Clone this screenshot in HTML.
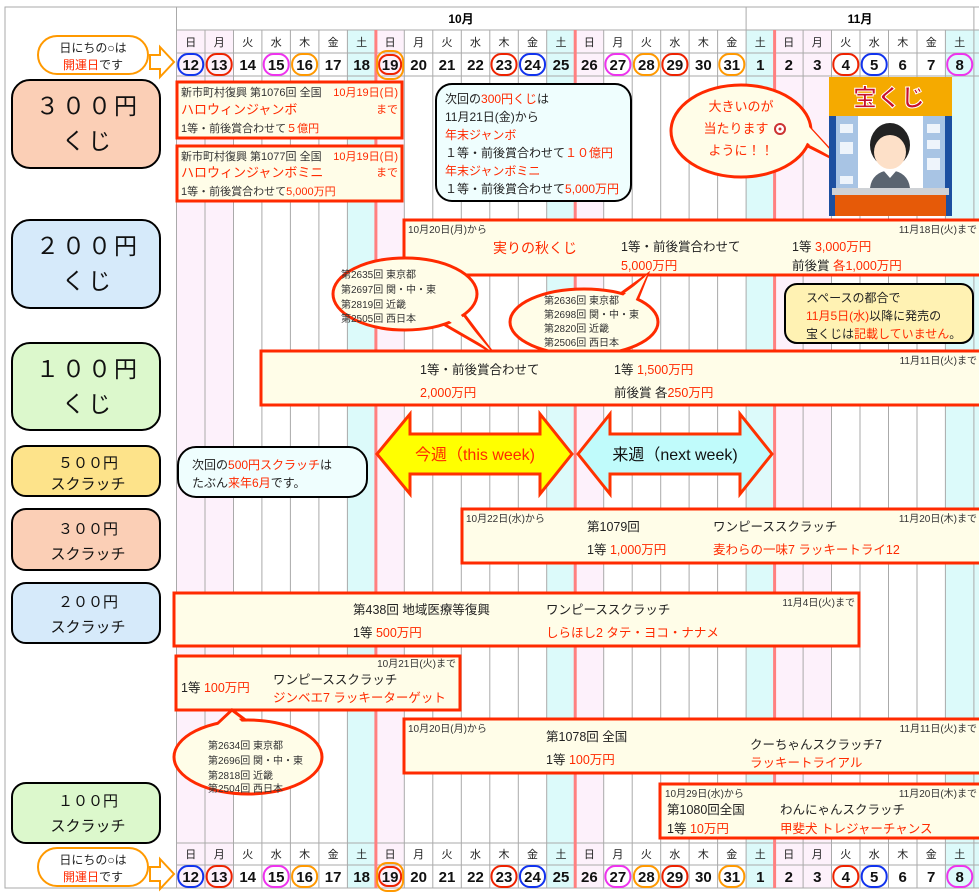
<!DOCTYPE html>
<html><head><meta charset="utf-8"><style>
html,body{margin:0;padding:0;background:#fff;}
svg{display:block;font-family:"Liberation Sans","Noto Sans CJK JP",sans-serif;}
.s{font-size:11px;fill:#333}
.m{font-size:12.5px;fill:#222}
.r{fill:#ff2a00}
.t{font-size:10px;fill:#333}
.d{font-size:11px;fill:#222;text-anchor:middle}
.n{font-size:15px;font-weight:bold;fill:#111;text-anchor:middle}
.ev{fill:#fffde8;stroke:#ff2a00;stroke-width:3}
.lb{stroke:#000;stroke-width:2}
.big{font-size:23px;fill:#111;text-anchor:middle;letter-spacing:3px}
.mid{font-size:15px;fill:#111;text-anchor:middle}
</style></head><body>
<svg width="979" height="895" viewBox="0 0 979 895" xmlns="http://www.w3.org/2000/svg">
<rect x="0" y="0" width="979" height="895" fill="#fff"/>
<g>
<rect x="176.5" y="30" width="57" height="858" fill="#fdf1fb"/>
<rect x="375.9" y="30" width="28.5" height="858" fill="#fdf1fb"/>
<rect x="575.2" y="30" width="28.5" height="858" fill="#fdf1fb"/>
<rect x="774.6" y="30" width="57" height="858" fill="#fdf1fb"/>
<rect x="347.4" y="30" width="28.5" height="858" fill="#dcfafa"/>
<rect x="546.7" y="30" width="28.5" height="858" fill="#dcfafa"/>
<rect x="746.1" y="30" width="28.5" height="858" fill="#dcfafa"/>
<rect x="945.4" y="30" width="34" height="858" fill="#dcfafa"/>
</g>
<g stroke="#aaa" stroke-width="1">
<line x1="176.5" y1="7" x2="176.5" y2="888"/>
<line x1="205" y1="30" x2="205" y2="888"/><line x1="233.5" y1="30" x2="233.5" y2="888"/><line x1="261.9" y1="30" x2="261.9" y2="888"/><line x1="290.4" y1="30" x2="290.4" y2="888"/><line x1="318.9" y1="30" x2="318.9" y2="888"/><line x1="347.4" y1="30" x2="347.4" y2="888"/><line x1="404.3" y1="30" x2="404.3" y2="888"/><line x1="432.8" y1="30" x2="432.8" y2="888"/><line x1="461.3" y1="30" x2="461.3" y2="888"/><line x1="489.8" y1="30" x2="489.8" y2="888"/><line x1="518.3" y1="30" x2="518.3" y2="888"/><line x1="546.7" y1="30" x2="546.7" y2="888"/><line x1="603.7" y1="30" x2="603.7" y2="888"/><line x1="632.2" y1="30" x2="632.2" y2="888"/><line x1="660.7" y1="30" x2="660.7" y2="888"/><line x1="689.1" y1="30" x2="689.1" y2="888"/><line x1="717.6" y1="30" x2="717.6" y2="888"/><line x1="746.1" y1="7" x2="746.1" y2="888"/><line x1="803.1" y1="30" x2="803.1" y2="888"/><line x1="831.5" y1="30" x2="831.5" y2="888"/><line x1="860" y1="30" x2="860" y2="888"/><line x1="888.5" y1="30" x2="888.5" y2="888"/><line x1="917" y1="30" x2="917" y2="888"/><line x1="945.4" y1="30" x2="945.4" y2="888"/><line x1="973.9" y1="7" x2="973.9" y2="888"/>
<line x1="176.5" y1="30" x2="979" y2="30"/><line x1="176.5" y1="53" x2="979" y2="53"/><line x1="176.5" y1="76" x2="979" y2="76"/>
<line x1="176.5" y1="843" x2="979" y2="843"/><line x1="176.5" y1="865" x2="979" y2="865"/>
<rect x="5" y="7" width="980" height="881" fill="none"/>
</g>
<g stroke="#ff8080" stroke-width="3">
<line x1="375.9" y1="30" x2="375.9" y2="888"/><line x1="575.2" y1="30" x2="575.2" y2="888"/><line x1="774.6" y1="30" x2="774.6" y2="888"/>
</g>
<text x="461" y="23" style="font-size:12px;font-weight:bold" text-anchor="middle">10月</text>
<text x="860" y="23" style="font-size:12px;font-weight:bold" text-anchor="middle">11月</text>

<g id="hdr">
<g class="d">
<text x="190.7" y="46">日</text><text x="219.2" y="46">月</text><text x="247.7" y="46">火</text><text x="276.2" y="46">水</text><text x="304.6" y="46">木</text><text x="333.1" y="46">金</text><text x="361.6" y="46">土</text>
<text x="390.1" y="46">日</text><text x="418.6" y="46">月</text><text x="447" y="46">火</text><text x="475.5" y="46">水</text><text x="504" y="46">木</text><text x="532.5" y="46">金</text><text x="561" y="46">土</text>
<text x="589.4" y="46">日</text><text x="617.9" y="46">月</text><text x="646.4" y="46">火</text><text x="674.9" y="46">水</text><text x="703.4" y="46">木</text><text x="731.8" y="46">金</text><text x="760.3" y="46">土</text>
<text x="788.8" y="46">日</text><text x="817.3" y="46">月</text><text x="845.8" y="46">火</text><text x="874.2" y="46">水</text><text x="902.7" y="46">木</text><text x="931.2" y="46">金</text><text x="959.7" y="46">土</text>
</g>
<g class="n">
<text x="190.7" y="70">12</text><text x="219.2" y="70">13</text><text x="247.7" y="70">14</text><text x="276.2" y="70">15</text><text x="304.6" y="70">16</text><text x="333.1" y="70">17</text><text x="361.6" y="70">18</text>
<text x="390.1" y="70">19</text><text x="418.6" y="70">20</text><text x="447" y="70">21</text><text x="475.5" y="70">22</text><text x="504" y="70">23</text><text x="532.5" y="70">24</text><text x="561" y="70">25</text>
<text x="589.4" y="70">26</text><text x="617.9" y="70">27</text><text x="646.4" y="70">28</text><text x="674.9" y="70">29</text><text x="703.4" y="70">30</text><text x="731.8" y="70">31</text><text x="760.3" y="70">1</text>
<text x="788.8" y="70">2</text><text x="817.3" y="70">3</text><text x="845.8" y="70">4</text><text x="874.2" y="70">5</text><text x="902.7" y="70">6</text><text x="931.2" y="70">7</text><text x="959.7" y="70">8</text>
</g>
<g fill="none" stroke-width="2">
<rect x="178.2" y="54" width="25" height="21" rx="10" stroke="#1133ee"/>
<rect x="206.7" y="54" width="25" height="21" rx="10" stroke="#ee2200"/>
<rect x="263.7" y="54" width="25" height="21" rx="10" stroke="#ee33ee"/>
<rect x="292.1" y="54" width="25" height="21" rx="10" stroke="#ff9900"/>
<rect x="379.1" y="55" width="22" height="19" rx="9" stroke="#ee2200"/>
<rect x="377.1" y="51" width="26" height="28" rx="10" stroke="#ff9900"/>
<rect x="491.5" y="54" width="25" height="21" rx="10" stroke="#ee2200"/>
<rect x="520" y="54" width="25" height="21" rx="10" stroke="#1133ee"/>
<rect x="605.4" y="54" width="25" height="21" rx="10" stroke="#ee33ee"/>
<rect x="633.9" y="54" width="25" height="21" rx="10" stroke="#ff9900"/>
<rect x="662.4" y="54" width="25" height="21" rx="10" stroke="#ee2200"/>
<rect x="719.3" y="54" width="25" height="21" rx="10" stroke="#ff9900"/>
<rect x="833.3" y="54" width="25" height="21" rx="10" stroke="#ee2200"/>
<rect x="861.7" y="54" width="25" height="21" rx="10" stroke="#1133ee"/>
<rect x="947.2" y="54" width="25" height="21" rx="10" stroke="#ee33ee"/>
</g>
</g>
<use href="#hdr" transform="translate(0,812)"/>

<g id="kai">
<rect x="38" y="36" width="110" height="38" rx="19" fill="#fff" stroke="#ff9900" stroke-width="2"/>
<text x="93" y="52" font-size="12" text-anchor="middle" fill="#222">日にちの○は</text>
<text x="93" y="69" font-size="12" text-anchor="middle" fill="#222"><tspan fill="#ff2a00">開運日</tspan>です</text>
<polygon points="150,55 160,55 160,47 174,62 160,77 160,69 150,69" fill="#fff" stroke="#ff9900" stroke-width="2"/>
</g>
<use href="#kai" transform="translate(0,812)"/>

<rect x="12" y="80" width="148" height="88" rx="18" fill="#fbcfb6" class="lb"/>
<text x="88" y="114" class="big">３００円</text><text x="88" y="149" class="big">くじ</text>
<rect x="12" y="220" width="148" height="88" rx="18" fill="#d6eafa" class="lb"/>
<text x="88" y="254" class="big">２００円</text><text x="88" y="289" class="big">くじ</text>
<rect x="12" y="343" width="148" height="87" rx="18" fill="#dcf8cc" class="lb"/>
<text x="88" y="377" class="big">１００円</text><text x="88" y="412" class="big">くじ</text>
<rect x="12" y="446" width="148" height="50" rx="14" fill="#fde38a" class="lb"/>
<text x="88" y="468" class="mid">５００円</text><text x="88" y="489" class="mid">スクラッチ</text>
<rect x="12" y="509" width="148" height="61" rx="14" fill="#fbcfb6" class="lb"/>
<text x="88" y="534" class="mid">３００円</text><text x="88" y="559" class="mid">スクラッチ</text>
<rect x="12" y="583" width="148" height="60" rx="14" fill="#d6eafa" class="lb"/>
<text x="88" y="607" class="mid">２００円</text><text x="88" y="632" class="mid">スクラッチ</text>
<rect x="12" y="783" width="148" height="60" rx="14" fill="#dcf8cc" class="lb"/>
<text x="88" y="806" class="mid">１００円</text><text x="88" y="831" class="mid">スクラッチ</text>

<rect x="177" y="82" width="225" height="56" class="ev"/>
<text x="181" y="96" class="s" font-size="10.5">新市町村復興 第1076回 全国</text>
<text x="398" y="96" class="s r" text-anchor="end" font-size="12">10月19日(日)</text>
<text x="398" y="113" class="s r" text-anchor="end">まで</text>
<text x="181" y="114" font-size="13" class="r">ハロウィンジャンボ</text>
<text x="181" y="132" class="s" font-size="10">1等・前後賞合わせて<tspan class="r">５億円</tspan></text>
<rect x="177" y="146" width="225" height="55" class="ev"/>
<text x="181" y="160" class="s" font-size="10.5">新市町村復興 第1077回 全国</text>
<text x="398" y="160" class="s r" text-anchor="end" font-size="12">10月19日(日)</text>
<text x="398" y="176" class="s r" text-anchor="end">まで</text>
<text x="181" y="177" font-size="13" class="r">ハロウィンジャンボミニ</text>
<text x="181" y="195" class="s" font-size="10">1等・前後賞合わせて<tspan class="r">5,000万円</tspan></text>

<rect x="436" y="84" width="195" height="117" rx="16" fill="#effefe" stroke="#000" stroke-width="2"/>
<g font-size="12" fill="#222">
<text x="445" y="103">次回の<tspan class="r">300円くじ</tspan>は</text>
<text x="445" y="121">11月21日(金)から</text>
<text x="445" y="139" class="r">年末ジャンボ</text>
<text x="445" y="157">１等・前後賞合わせて<tspan class="r">１０億円</tspan></text>
<text x="445" y="175" class="r">年末ジャンボミニ</text>
<text x="445" y="193">１等・前後賞合わせて<tspan class="r">5,000万円</tspan></text>
</g>

<path d="M795,112 L842,163 L806,145" fill="#fffde8" stroke="#ff2a00" stroke-width="3"/>
<ellipse cx="741" cy="131" rx="70" ry="46" fill="#fffde8" stroke="#ff2a00" stroke-width="3"/>
<path d="M800,117 L842,163 L804,141 Z" fill="#fffde8"/>
<g font-size="13" class="r" text-anchor="middle">
<text x="741" y="111">大きいのが</text><text x="736" y="133">当たります</text><text x="741" y="155">ように！！</text>
</g>
<circle cx="780" cy="129" r="5" fill="#fff" stroke="#c33" stroke-width="2"/><circle cx="780" cy="129" r="1.5" fill="#c33"/>

<rect x="829" y="77" width="123" height="39" fill="#f5aa00"/>
<text x="889" y="106" text-anchor="middle" font-size="24" font-weight="bold" fill="#c8102e" stroke="#fff" stroke-width="1">宝くじ</text>
<rect x="829" y="116" width="123" height="100" fill="#1c4fa0"/>
<rect x="836" y="116" width="22" height="72" fill="#a8c4e4"/>
<rect x="923" y="116" width="22" height="72" fill="#a8c4e4"/>
<rect x="858" y="116" width="65" height="72" fill="#fff"/>
<g fill="#eef4fb"><rect x="840" y="124" width="13" height="9"/><rect x="840" y="142" width="13" height="12"/><rect x="927" y="124" width="13" height="9"/><rect x="927" y="140" width="13" height="9"/><rect x="927" y="158" width="13" height="12"/><rect x="840" y="176" width="13" height="8"/></g>
<ellipse cx="890" cy="145" rx="20" ry="22" fill="#222"/>
<ellipse cx="890" cy="152" rx="16" ry="17" fill="#fde0c8"/>
<path d="M870,188 Q872,172 890,170 Q908,172 910,188 Z" fill="#5a6470"/>
<path d="M883,170 L890,178 L897,170 Z" fill="#fff"/>
<rect x="832" y="188" width="117" height="7" fill="#cfd2d6"/>
<rect x="835" y="195" width="111" height="21" fill="#e65a08"/>

<rect x="404" y="220" width="578" height="55" class="ev"/>
<text x="408" y="233" class="t r">10月20日(月)から</text>
<text x="977" y="233" class="t r" text-anchor="end">11月18日(火)まで</text>
<text x="493" y="253" font-size="14" class="r">実りの秋くじ</text>
<text x="621" y="251" class="m">1等・前後賞合わせて</text>
<text x="621" y="270" class="m r">5,000万円</text>
<text x="792" y="251" class="m">1等 <tspan class="r">3,000万円</tspan></text>
<text x="792" y="270" class="m">前後賞 <tspan class="r">各1,000万円</tspan></text>

<path d="M440,322 L492,352 L462,312" fill="#fffde8" stroke="#ff2a00" stroke-width="3"/>
<ellipse cx="405" cy="294" rx="72" ry="36" fill="#fffde8" stroke="#ff2a00" stroke-width="3"/>
<path d="M445,318 L492,352 L460,314 Z" fill="#fffde8"/>
<g class="t" font-size="9.5"><text x="341" y="278">第2635回 東京都</text><text x="341" y="293">第2697回 関・中・東</text><text x="341" y="308">第2819回 近畿</text><text x="341" y="322">第2505回 西日本</text></g>

<path d="M615,298 L647,275 L636,303" fill="#fffde8" stroke="#ff2a00" stroke-width="3"/>
<ellipse cx="584" cy="322" rx="74" ry="33" fill="#fffde8" stroke="#ff2a00" stroke-width="3"/>
<path d="M618,300 L647,275 L633,306 Z" fill="#fffde8"/>
<g class="t" font-size="9.5"><text x="544" y="304">第2636回 東京都</text><text x="544" y="318">第2698回 関・中・東</text><text x="544" y="332">第2820回 近畿</text><text x="544" y="346">第2506回 西日本</text></g>

<rect x="785" y="284" width="188" height="59" rx="12" fill="#fff2b3" stroke="#000" stroke-width="2"/>
<g font-size="12" fill="#222"><text x="806" y="302">スペースの都合で</text><text x="806" y="320"><tspan class="r">11月5日(水)</tspan>以降に発売の</text><text x="806" y="338">宝くじは<tspan class="r">記載していません</tspan>。</text></g>

<rect x="261" y="351" width="721" height="54" class="ev"/>
<text x="977" y="364" class="t r" text-anchor="end">11月11日(火)まで</text>
<text x="420" y="374" class="m">1等・前後賞合わせて</text>
<text x="420" y="397" class="m r">2,000万円</text>
<text x="614" y="374" class="m">1等 <tspan class="r">1,500万円</tspan></text>
<text x="614" y="397" class="m">前後賞 各<tspan class="r">250万円</tspan></text>

<polygon points="377,454 410,414 410,434 540,434 540,414 572,454 540,494 540,474 410,474 410,494" fill="#ffff00" stroke="#ff3300" stroke-width="3"/>
<text x="475" y="460" font-size="16" text-anchor="middle" class="r">今週（this week)</text>
<polygon points="578,454 610,414 610,434 740,434 740,414 772,454 740,494 740,474 610,474 610,494" fill="#c0fbfb" stroke="#ff3300" stroke-width="3"/>
<text x="675" y="460" font-size="16" text-anchor="middle" fill="#111">来週（next week)</text>

<rect x="178" y="447" width="189" height="50" rx="18" fill="#effefe" stroke="#000" stroke-width="2"/>
<text x="192" y="469" font-size="12" fill="#222">次回の<tspan class="r">500円スクラッチ</tspan>は</text>
<text x="192" y="487" font-size="12" fill="#222">たぶん<tspan class="r">来年6月</tspan>です。</text>

<rect x="462" y="509" width="520" height="54" class="ev"/>
<text x="466" y="522" class="t r">10月22日(水)から</text>
<text x="977" y="522" class="t r" text-anchor="end">11月20日(木)まで</text>
<text x="587" y="531" class="m">第1079回</text>
<text x="713" y="531" class="m">ワンピーススクラッチ</text>
<text x="587" y="554" class="m">1等 <tspan class="r">1,000万円</tspan></text>
<text x="713" y="554" class="m r">麦わらの一味7 ラッキートライ12</text>

<rect x="174" y="593" width="685" height="53" class="ev"/>
<text x="855" y="606" class="t r" text-anchor="end">11月4日(火)まで</text>
<text x="353" y="614" class="m">第438回 地域医療等復興</text>
<text x="546" y="614" class="m">ワンピーススクラッチ</text>
<text x="353" y="637" class="m">1等 <tspan class="r">500万円</tspan></text>
<text x="546" y="637" class="m r">しらほし2 タテ・ヨコ・ナナメ</text>

<rect x="176" y="656" width="284" height="54" class="ev"/>
<text x="456" y="667" class="t r" text-anchor="end">10月21日(火)まで</text>
<text x="181" y="692" class="m">1等 <tspan class="r">100万円</tspan></text>
<text x="273" y="684" class="m">ワンピーススクラッチ</text>
<text x="273" y="702" class="m r">ジンベエ7 ラッキーターゲット</text>

<path d="M214,727 L232,710 L248,722" fill="#fffde8" stroke="#ff2a00" stroke-width="3"/>
<ellipse cx="248" cy="757" rx="74" ry="37" fill="#fffde8" stroke="#ff2a00" stroke-width="3"/>
<path d="M218,725 L232,712 L244,724 Z" fill="#fffde8"/>
<g class="t" font-size="9.5"><text x="208" y="749">第2634回 東京都</text><text x="208" y="764">第2696回 関・中・東</text><text x="208" y="779">第2818回 近畿</text><text x="208" y="792">第2504回 西日本</text></g>

<rect x="404" y="719" width="578" height="54" class="ev"/>
<text x="408" y="732" class="t r">10月20日(月)から</text>
<text x="977" y="732" class="t r" text-anchor="end">11月11日(火)まで</text>
<text x="546" y="741" class="m">第1078回 全国</text>
<text x="546" y="764" class="m">1等 <tspan class="r">100万円</tspan></text>
<text x="750" y="749" class="m">クーちゃんスクラッチ7</text>
<text x="750" y="767" class="m r">ラッキートライアル</text>

<rect x="660" y="784" width="322" height="54" class="ev"/>
<text x="665" y="797" class="t r">10月29日(水)から</text>
<text x="977" y="797" class="t r" text-anchor="end">11月20日(木)まで</text>
<text x="667" y="814" class="m">第1080回全国</text>
<text x="780" y="814" class="m">わんにゃんスクラッチ</text>
<text x="667" y="833" class="m">1等 <tspan class="r">10万円</tspan></text>
<text x="780" y="833" class="m r">甲斐犬 トレジャーチャンス</text>
</svg>
</body></html>
